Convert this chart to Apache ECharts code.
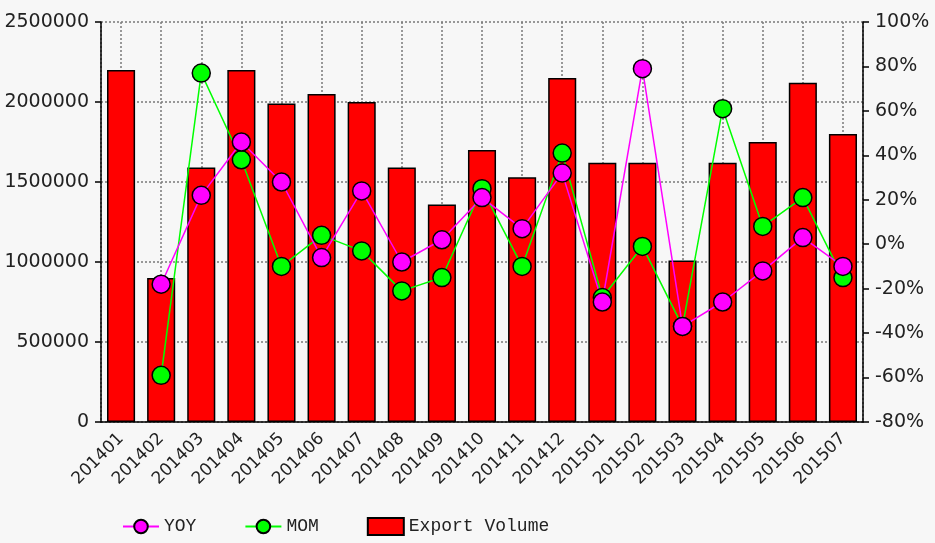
<!DOCTYPE html>
<html>
<head>
<meta charset="utf-8">
<script src="https://cdn.jsdelivr.net/npm/echarts@6/dist/echarts.min.js"></script>
<style>
  html, body { margin: 0; padding: 0; background: #f7f7f7; }
  #chart { width: 935px; height: 543px; }
</style>
</head>
<body>
<div id="chart"></div>
<script>
// months on the x axis
var months = ['201401','201402','201403','201404','201405','201406','201407','201408','201409','201410',
              '201411','201412','201501','201502','201503','201504','201505','201506','201507'];
// export volume (left axis)
var exportVolume = [2200000, 900000, 1590000, 2200000, 1990000, 2050000, 2000000, 1590000, 1360000, 1700000,
                    1530000, 2150000, 1620000, 1620000, 1010000, 1620000, 1750000, 2120000, 1800000];
// year on year, percent (right axis)
var yoy = [null, -18, 22, 46, 28, -6, 24, -8, 2, 21, 7, 32, -26, 79, -37, -26, -12, 3, -10];
// month on month, percent (right axis)
var mom = [null, -59, 77, 38, -10, 4, -3, -21, -15, 25, -10, 41, -24, -1, -37, 61, 8, 21, -15];

var labelFont = 'DejaVu Sans';
var gridDots = { color: '#7a7a7a', width: 1.5, type: [2, 2] };

var chart = echarts.init(document.getElementById('chart'));
var option = {
  backgroundColor: '#f7f7f7',
  animation: false,
  grid: { left: 101, right: 72, top: 22, bottom: 121, containLabel: false, outerBoundsMode: 'none' },
  legend: {
    data: ['YOY', 'MOM', { name: 'Export Volume', icon: 'rect' }],
    left: 117,
    top: 512,
    itemWidth: 36,
    itemHeight: 17,
    itemGap: 48,
    textStyle: { fontFamily: 'Liberation Mono', fontSize: 18, color: '#222' }
  },
  xAxis: [
    {
      type: 'category',
      data: months,
      axisLine: { onZero: false, lineStyle: { color: '#000', width: 1.5 } },
      axisTick: { alignWithLabel: true, length: 5, lineStyle: { color: '#000', width: 1.5 } },
      axisLabel: { rotate: 45, fontFamily: labelFont, fontSize: 17, color: '#222', margin: 14, interval: 0 },
      splitLine: { show: false }
    },
    {
      // hidden helper axis: dotted vertical lines through the category centres
      type: 'value',
      position: 'bottom',
      min: -0.5,
      max: months.length - 0.5,
      splitNumber: months.length,
      minInterval: 1,
      maxInterval: 1,
      axisLine: { show: false, onZero: false },
      axisTick: { show: false },
      axisLabel: { show: false },
      splitLine: { show: true, lineStyle: gridDots }
    }
  ],
  yAxis: [
    {
      type: 'value',
      min: 0,
      max: 2500000,
      interval: 500000,
      axisLine: { show: true, onZero: false, lineStyle: { color: '#000', width: 1.5 } },
      axisTick: { show: true, length: 6, lineStyle: { color: '#000', width: 1.5 } },
      axisLabel: { fontFamily: labelFont, fontSize: 19, color: '#222', margin: 12,
                   formatter: function (v) { return String(v); } },
      splitLine: { show: true, lineStyle: gridDots }
    },
    {
      type: 'value',
      min: -80,
      max: 100,
      interval: 20,
      position: 'right',
      axisLine: { show: true, onZero: false, lineStyle: { color: '#000', width: 1.5 } },
      axisTick: { show: true, length: 6, lineStyle: { color: '#000', width: 1.5 } },
      axisLabel: { fontFamily: labelFont, fontSize: 19, color: '#222', margin: 12, formatter: '{value}%' },
      splitLine: { show: false }
    }
  ],
  series: [
    {
      name: 'Export Volume',
      type: 'bar',
      data: exportVolume,
      barWidth: '70%',
      itemStyle: { color: '#ff0000', borderColor: '#000', borderWidth: 1.5 }
    },
    {
      name: 'MOM',
      type: 'line',
      yAxisIndex: 1,
      data: mom,
      symbol: 'circle',
      symbolSize: 18,
      lineStyle: { color: '#00ff00', width: 1.5 },
      itemStyle: { color: '#00ff00', borderColor: '#000', borderWidth: 1.5 }
    },
    {
      name: 'YOY',
      type: 'line',
      yAxisIndex: 1,
      data: yoy,
      symbol: 'circle',
      symbolSize: 18,
      lineStyle: { color: '#ff00ff', width: 1.5 },
      itemStyle: { color: '#ff00ff', borderColor: '#000', borderWidth: 1.5 }
    }
  ]
};
chart.setOption(option);
</script>
</body>
</html>
